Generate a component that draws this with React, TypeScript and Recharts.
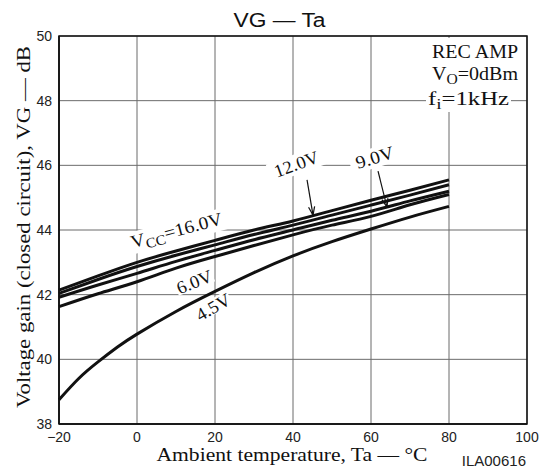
import React from 'react'
import { LineChart, Line, XAxis, YAxis, CartesianGrid, ReferenceDot, ReferenceLine, ReferenceArea } from 'recharts'

// ambient temperature (°C) and closed-circuit gain (dB) per supply voltage
const temps = [-20, -10, 0, 10, 20, 30, 40, 50, 60, 70, 80]
const vcc16 = [42.14, 42.58, 43.0, 43.35, 43.68, 44.0, 44.28, 44.6, 44.92, 45.23, 45.55]
const vcc12 = [42.04, 42.47, 42.87, 43.22, 43.54, 43.86, 44.15, 44.46, 44.77, 45.08, 45.4]
const vcc9 = [41.92, 42.3, 42.66, 43.03, 43.37, 43.7, 44.0, 44.3, 44.58, 44.9, 45.2]
const vcc6 = [41.63, 42.03, 42.4, 42.82, 43.18, 43.52, 43.85, 44.15, 44.42, 44.78, 45.1]

// the 4.5 V curve bends more at low temperature, so it is read at more points
const temps45 = [-20, -15, -10, -5, 0, 10, 20, 30, 40, 50, 60, 70, 80]
const vcc45 = [38.75, 39.4, 39.92, 40.38, 40.78, 41.48, 42.1, 42.68, 43.2, 43.64, 44.03, 44.4, 44.73]

const xTicks = [-20, 0, 20, 40, 60, 80, 100]
const yTicks = [38, 40, 42, 44, 46, 48, 50]

const mainSeries = [vcc16, vcc12, vcc9, vcc6].map((vals) => temps.map((t, i) => ({ ta: t, vg: vals[i] })))
const lowSeries = temps45.map((t, i) => ({ ta: t, vg: vcc45[i] }))
const allSeries = [...mainSeries, lowSeries]

// curve labels: anchor = middle of the text baseline
const curveLabels = [
  { id: 'vcc', ta: 10.5, vg: 43.81, angle: -15, len: 94, padX: 4, padTop: 3, padBottom: 6 },
  { id: '12.0V', ta: 41.4, vg: 45.86, angle: -20, len: 46, padX: 6, padTop: 3, padBottom: 4 },
  { id: '9.0V', ta: 61.4, vg: 46.06, angle: -17, len: 39, padX: 6, padTop: 3, padBottom: 4 },
  { id: '6.0V', ta: 15.3, vg: 42.22, angle: -22, len: 37, padX: 1, padTop: 1, padBottom: 1 },
  { id: '4.5V', ta: 20.3, vg: 41.45, angle: -30, len: 37, padX: 1, padTop: 1, padBottom: 1 },
]

const arrows = [
  { from: { x: 43.6, y: 45.55 }, to: { x: 45.13, y: 44.46 } },
  { from: { x: 61.8, y: 45.82 }, to: { x: 64.1, y: 44.71 } },
]

const serif = '"Liberation Serif", "Times New Roman", serif'
const sans = '"Liberation Sans", Arial, sans-serif'

function labelText(id: string, len: number) {
  if (id === 'vcc') {
    return (
      <text x={0} y={0} textAnchor="middle" fontFamily={serif} fontSize={18} fill="#111" textLength={len} lengthAdjust="spacingAndGlyphs">
        <tspan>V</tspan>
        <tspan fontSize={14} dy={4}>CC</tspan>
        <tspan dy={-4}>=16.0V</tspan>
      </text>
    )
  }
  return (
    <text x={0} y={0} textAnchor="middle" fontFamily={serif} fontSize={18} fill="#111" textLength={len} lengthAdjust="spacingAndGlyphs">
      {id}
    </text>
  )
}

function Arrow(props: any) {
  const { x1, y1, x2, y2 } = props
  const dx = x2 - x1
  const dy = y2 - y1
  const l = Math.sqrt(dx * dx + dy * dy)
  const ux = dx / l
  const uy = dy / l
  const a = (20 * Math.PI) / 180
  const h = 9
  const p1 = [x2 - h * (ux * Math.cos(a) - uy * Math.sin(a)), y2 - h * (uy * Math.cos(a) + ux * Math.sin(a))]
  const p2 = [x2 - h * (ux * Math.cos(a) + uy * Math.sin(a)), y2 - h * (uy * Math.cos(a) - ux * Math.sin(a))]
  return (
    <g stroke="#111" strokeWidth={1.2}>
      <line x1={x1} y1={y1} x2={x2} y2={y2} />
      <line x1={p1[0]} y1={p1[1]} x2={x2} y2={y2} />
      <line x1={p2[0]} y1={p2[1]} x2={x2} y2={y2} />
    </g>
  )
}

function ConditionBox(props: any) {
  const { cx, cy } = props
  const right = cx - 9
  return (
    <g fontFamily={serif} fill="#111">
      <rect x={cx - 101} y={cy + 2} width={85} height={74} fill="#fff" />
      <text x={right} y={cy + 22} textAnchor="end" fontSize={18} textLength={86} lengthAdjust="spacingAndGlyphs">REC AMP</text>
      <text x={right} y={cy + 44} textAnchor="end" fontSize={18} textLength={86} lengthAdjust="spacingAndGlyphs">
        <tspan>V</tspan>
        <tspan fontSize={14} dy={4}>O</tspan>
        <tspan dy={-4}>=0dBm</tspan>
      </text>
      <text x={cx - 18} y={cy + 69} textAnchor="end" fontSize={18} textLength={81} lengthAdjust="spacingAndGlyphs">
        <tspan>f</tspan>
        <tspan fontSize={14} dy={4}>i</tspan>
        <tspan dy={-4}>=1kHz</tspan>
      </text>
    </g>
  )
}

const fmtX = (v: number) => (v < 0 ? '\u2212' + Math.abs(v) : String(v))

export default function App() {
  return (
    <div style={{ position: 'absolute', left: 0, top: 0, background: '#fff' }}>
      <LineChart width={547} height={472} margin={{ top: 36, right: 20, bottom: 0, left: 0 }}>
        <CartesianGrid stroke="#6b6b6b" strokeWidth={1} />
        <XAxis
          dataKey="ta"
          type="number"
          domain={[-20, 100]}
          ticks={xTicks}
          height={48}
          tickFormatter={fmtX}
          tickLine={false}
          tickSize={6}
          tickMargin={2}
          axisLine={{ stroke: '#111', strokeWidth: 1.5 }}
          tick={{ fill: '#222', fontSize: 14, fontFamily: sans }}
          allowDuplicatedCategory={false}
        />
        <YAxis
          type="number"
          domain={[38, 50]}
          ticks={yTicks}
          width={59}
          tickLine={false}
          tickSize={5}
          tickMargin={2}
          axisLine={{ stroke: '#111', strokeWidth: 1.5 }}
          tick={{ fill: '#222', fontSize: 14, fontFamily: sans }}
        />
        <ReferenceArea x1={-20} x2={100} y1={38} y2={50} fill="none" stroke="#111" strokeWidth={1.5} ifOverflow="visible" />
        {allSeries.map((s, i) => (
          <Line key={i} data={s} dataKey="vg" type="natural" stroke="#111" strokeWidth={3} dot={false} isAnimationActive={false} />
        ))}
        {curveLabels.map((c) => (
          <ReferenceDot
            key={c.id}
            x={c.ta}
            y={c.vg}
            r={0}
            ifOverflow="visible"
            shape={(p: any) => (
              <g transform={`translate(${p.cx},${p.cy}) rotate(${c.angle})`}>
                <rect
                  x={-c.len / 2 - c.padX}
                  y={-13 - c.padTop}
                  width={c.len + 2 * c.padX}
                  height={13 + c.padTop + c.padBottom}
                  fill="#fff"
                />
                {labelText(c.id, c.len)}
              </g>
            )}
          />
        ))}
        {arrows.map((a, i) => (
          <ReferenceLine key={i} segment={[a.from, a.to]} ifOverflow="visible" shape={(p: any) => <Arrow {...p} />} />
        ))}
        <ReferenceDot x={100} y={50} r={0} ifOverflow="visible" shape={(p: any) => <ConditionBox {...p} />} />
        <text x={279.5} y={27} textAnchor="middle" fontFamily={sans} fontSize={20} fill="#111" textLength={92} lengthAdjust="spacingAndGlyphs">
          VG — Ta
        </text>
        <text x={292} y={461} textAnchor="middle" fontFamily={serif} fontSize={18} fill="#111" textLength={271} lengthAdjust="spacingAndGlyphs">
          Ambient temperature, Ta — °C
        </text>
        <text
          transform="translate(30,227) rotate(-90)"
          x={0}
          y={0}
          textAnchor="middle"
          fontFamily={serif}
          fontSize={18}
          fill="#111"
          textLength={362}
          lengthAdjust="spacingAndGlyphs"
        >
          Voltage gain (closed circuit), VG — dB
        </text>
        <text x={526} y={466} textAnchor="end" fontFamily={sans} fontSize={15} fill="#222">
          ILA00616
        </text>
      </LineChart>
    </div>
  )
}
